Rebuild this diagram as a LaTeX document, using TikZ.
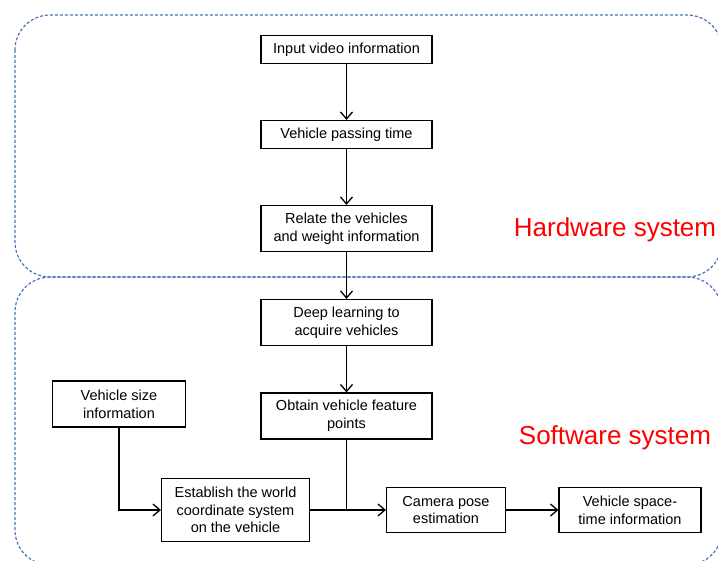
\documentclass[tikz,border=0pt]{standalone}
\usepackage{fontspec}
\setmainfont{Liberation Sans}
\usepackage{tikz}
\usetikzlibrary{arrows.meta}
\definecolor{regionblue}{HTML}{4A72BE}
\definecolor{labelred}{HTML}{FF0000}
\tikzstyle{block}=[draw=black, fill=white, line width=1.1pt, align=center, inner sep=0pt, font=\fontsize{14.5}{17.7}\selectfont]
\tikzstyle{region}=[draw=regionblue, dash pattern=on 3pt off 2pt, line width=1.2pt, rounded corners=35pt]
\tikzstyle{flow}=[draw=black, line width=1.3pt, -{Straight Barb[length=7pt,width=12pt]}]
\tikzstyle{syslabel}=[text=labelred, font=\fontsize{26}{30}\selectfont]

\begin{document}
\begin{tikzpicture}[x=1pt, y=-1pt]
			\useasboundingbox (0,0) rectangle (718,561);
			\clip (0,0) rectangle (718,561);
			\draw[region] (15,15) rectangle (722,277);
			\draw[region] (15,277) rectangle (722,565);
			\node[syslabel] (hw) at (615,230) {Hardware system};
			\node[syslabel] (sw) at (615,438) {Software system};
			\node[block, minimum width=171pt, minimum height=28pt] (input) at (346.5,49.5) {Input video information};
			\node[block, minimum width=171pt, minimum height=28pt] (pass) at (346.5,134.5) {Vehicle passing time};
			\node[block, minimum width=171pt, minimum height=46pt] (relate) at (346.5,228.5) {Relate the vehicles\\and weight information};
			\node[block, minimum width=171pt, minimum height=46pt] (deep) at (346.5,322.5) {Deep learning to\\acquire vehicles};
			\node[block, minimum width=171pt, minimum height=46pt] (feat) at (346.5,416) {Obtain vehicle feature\\points};
			\node[block, minimum width=133pt, minimum height=46pt] (size) at (119,404) {Vehicle size\\information};
			\node[block, minimum width=148pt, minimum height=63pt] (world) at (235.5,510) {Establish the world\\coordinate system\\on the vehicle};
			\node[block, minimum width=119pt, minimum height=45pt] (pose) at (446,510) {Camera pose\\estimation};
			\node[block, minimum width=142pt, minimum height=45pt] (st) at (630,510) {Vehicle space-\\time information};
			\coordinate (join) at (feat.south |- world.east);
			\path[flow] (input)--(pass);
			\path[flow] (pass)--(relate);
			\path[flow] (relate)--(deep);
			\path[flow] (deep)--(feat);
			\path[draw=black, line width=1.3pt] (feat.south)--(join);
			\path[flow] (world.east)--(pose.west);
			\path[flow] (pose.east)--(st.west);
			\path[flow] (size.south)|-(world.west);
		\end{tikzpicture}
\end{document}
